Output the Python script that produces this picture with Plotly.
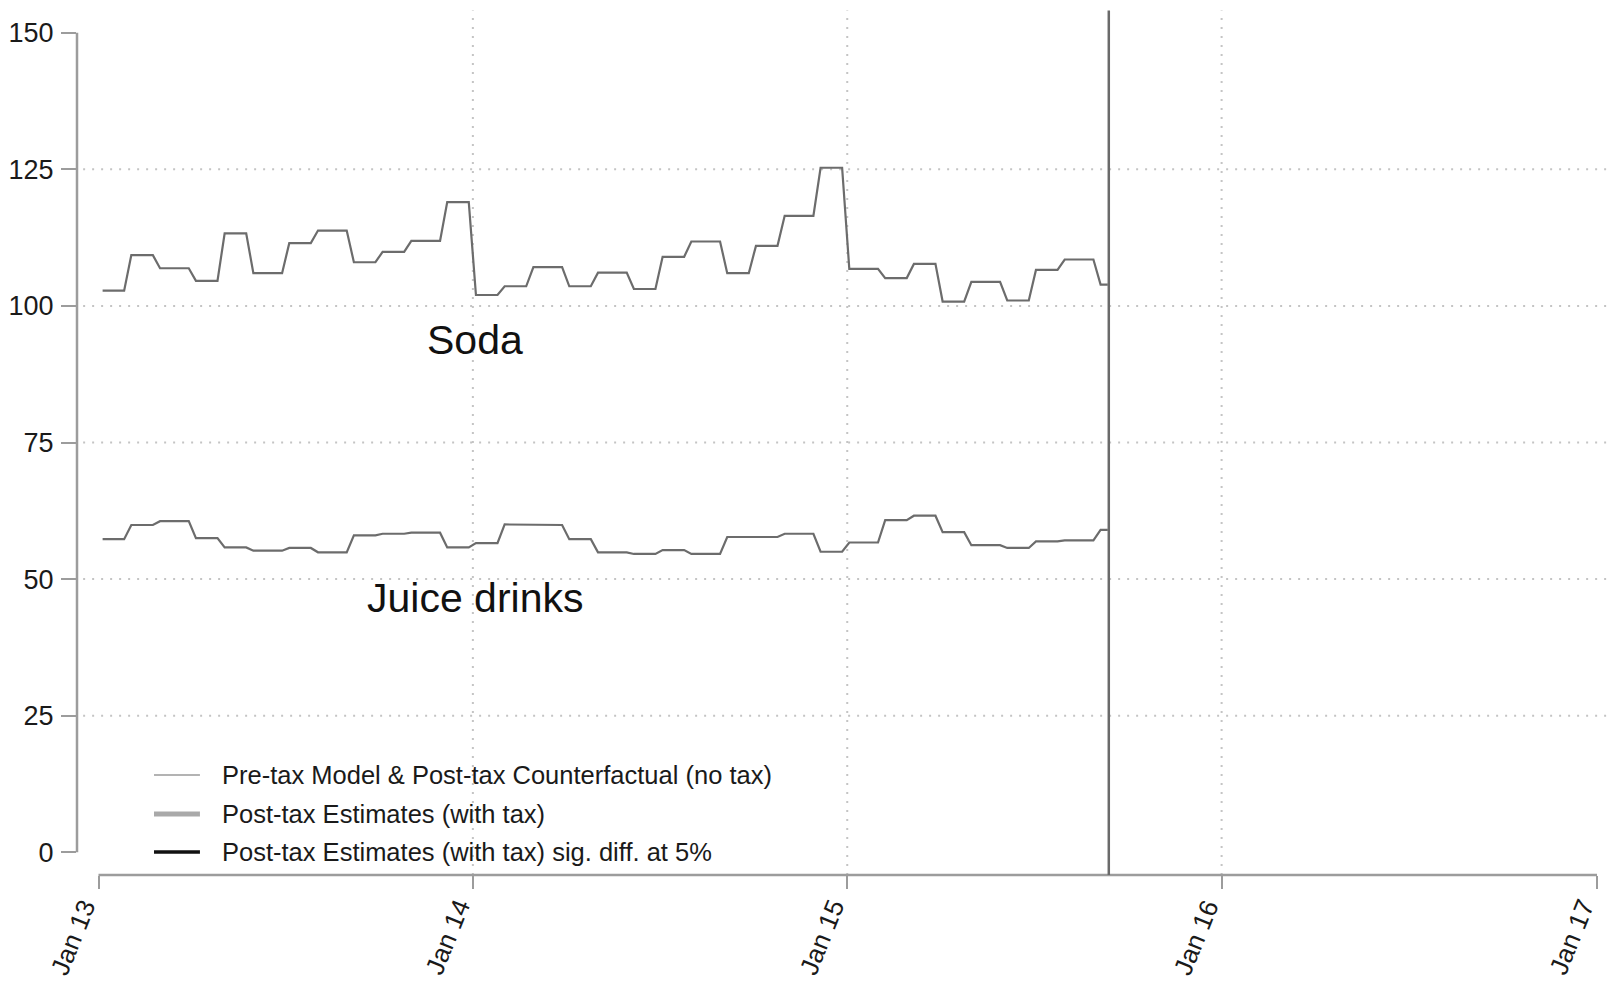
import pandas as pd
import plotly.graph_objects as go

# Monthly model values, Jan 2013 - Sep 2015
months = pd.period_range("2013-01", "2015-09", freq="M")
soda = [102.8, 109.3, 106.9, 104.6, 113.3, 106.0, 111.5, 113.8, 108.0, 109.9, 111.9, 119.0,
        102.0, 103.6, 107.1, 103.6, 106.1, 103.1, 109.0, 111.8, 106.0, 111.0, 116.5, 125.3,
        106.8, 105.1, 107.7, 100.8, 104.4, 101.0, 106.6, 108.5, 103.9]
juice = [57.3, 59.9, 60.6, 57.5, 55.8, 55.2, 55.7, 54.9, 58.0, 58.3, 58.5, 55.8,
         56.6, 60.0, 59.9, 57.3, 54.9, 54.6, 55.3, 54.6, 57.7, 57.7, 58.3, 55.0,
         56.7, 60.8, 61.6, 58.6, 56.2, 55.7, 56.9, 57.1, 59.0]

# Series are plotted weekly (week ending Saturday); each week carries its month's value
weeks = pd.date_range("2013-01-05", "2015-09-12", freq="W-SAT")
soda_by_month = dict(zip(months, soda))
juice_by_month = dict(zip(months, juice))
week_month = weeks.to_period("M")
soda_weekly = [soda_by_month[m] for m in week_month]
juice_weekly = [juice_by_month[m] for m in week_month]

tax_date = "2015-09-13"
x_ticks = ["2013-01-01", "2014-01-01", "2015-01-01", "2016-01-01", "2017-01-01"]
x_labels = ["Jan 13", "Jan 14", "Jan 15", "Jan 16", "Jan 17"]
y_ticks = [0, 25, 50, 75, 100, 125, 150]
grid_y = [25, 50, 75, 100, 125]
grid_x = ["2014-01-01", "2015-01-01", "2016-01-01"]

legend_items = [
    ("Pre-tax Model & Post-tax Counterfactual (no tax)", "#9a9a9a", 1.5),
    ("Post-tax Estimates (with tax)", "#a9a9a9", 5),
    ("Post-tax Estimates (with tax) sig. diff. at 5%", "#111111", 3.5),
]

FONT = "Liberation Sans, Arial, sans-serif"
LINE_COLOR = "#6c6c6c"
AXIS_COLOR = "#9c9c9c"

fig = go.Figure()
fig.add_trace(go.Scatter(x=weeks, y=soda_weekly, mode="lines", name="Soda",
                         line=dict(color=LINE_COLOR, width=2.2), showlegend=False))
fig.add_trace(go.Scatter(x=weeks, y=juice_weekly, mode="lines", name="Juice drinks",
                         line=dict(color=LINE_COLOR, width=2.2), showlegend=False))

shapes = []
for gy in grid_y:
    shapes.append(dict(type="line", xref="paper", yref="y", x0=0.004, x1=1, y0=gy, y1=gy,
                       line=dict(color="#c4c4c4", width=2, dash="2px,7px"), layer="below"))
for gx in grid_x:
    shapes.append(dict(type="line", xref="x", yref="paper", x0=gx, x1=gx, y0=0, y1=0.997,
                       line=dict(color="#c4c4c4", width=2, dash="2px,7px"), layer="below"))
# axis lines spanning only the tick range
shapes.append(dict(type="line", xref="paper", yref="y", x0=0, x1=0, y0=0, y1=150,
                   line=dict(color=AXIS_COLOR, width=2.5)))
shapes.append(dict(type="line", xref="x", yref="paper", x0=x_ticks[0], x1=x_ticks[-1], y0=0, y1=0,
                   line=dict(color=AXIS_COLOR, width=2.5)))
# tax introduction marker
shapes.append(dict(type="line", xref="x", yref="paper", x0=tax_date, x1=tax_date, y0=0, y1=0.997,
                   line=dict(color="#6a6a6a", width=2.5)))

annotations = []
# rotated date labels, top-right corner at each tick
for tv, tl in zip(x_ticks, x_labels):
    annotations.append(dict(x=tv, y=-0.024, xref="x", yref="paper", text=tl, showarrow=False,
                            textangle=-68, xanchor="right", yanchor="top", xshift=6, yshift=3,
                            font=dict(family=FONT, size=26, color="#1a1a1a")))

# legend drawn inside the plot, lower left
row_y = [0.1153, 0.0704, 0.0265]
for (label, color, width), ry in zip(legend_items, row_y):
    shapes.append(dict(type="line", xref="paper", yref="paper", x0=0.0503, x1=0.0803, y0=ry, y1=ry,
                       line=dict(color=color, width=width)))
    annotations.append(dict(xref="paper", yref="paper", x=0.0937, y=ry, text=label, showarrow=False,
                            xanchor="left", yanchor="middle",
                            font=dict(family=FONT, size=25.5, color="#1a1a1a")))

annotations.append(dict(x="2014-01-03", y=93.7, text="Soda", showarrow=False,
                        font=dict(family=FONT, size=41, color="#111111")))
annotations.append(dict(x="2014-01-03", y=46.5, text="Juice drinks", showarrow=False,
                        font=dict(family=FONT, size=41, color="#111111")))

fig.update_layout(
    width=1608, height=982,
    margin=dict(l=77, r=0, t=8, b=107),
    paper_bgcolor="white", plot_bgcolor="white",
    shapes=shapes, annotations=annotations,
    showlegend=False,
    xaxis=dict(type="date", range=["2012-12-11 01:00", "2017-01-11 17:00"],
               tickmode="array", tickvals=x_ticks, ticktext=x_labels,
               ticks="outside", ticklen=13, tickwidth=2, tickcolor=AXIS_COLOR,
               showticklabels=False,
               showgrid=False, zeroline=False, showline=False, automargin=False),
    yaxis=dict(range=[-4.17, 154.54], tickmode="array", tickvals=y_ticks,
               ticks="outside", ticklen=15, tickwidth=2, tickcolor=AXIS_COLOR,
               showgrid=False, zeroline=False, showline=False, automargin=False,
               ticklabelstandoff=2,
               tickfont=dict(family=FONT, size=27, color="#1a1a1a")),
)

fig.write_html("out.html")
